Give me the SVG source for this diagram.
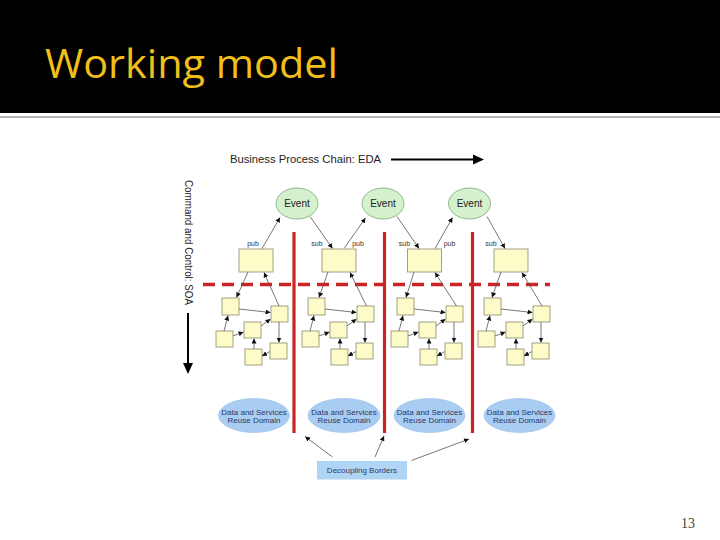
<svg xmlns="http://www.w3.org/2000/svg" width="720" height="540" viewBox="0 0 720 540">
<style>
.t{font-family:"Liberation Sans",Arial,sans-serif}
.box{fill:#fdfbc8;stroke:#8a8a6a;stroke-width:0.8}
.ev{fill:#d4f0cc;stroke:#7aaa72;stroke-width:0.8}
.dom{fill:#a8ccf2;stroke:#9bbfe6;stroke-width:0.6}
.cn{stroke:#555;stroke-width:0.8;fill:none;marker-end:url(#ah)}
.red{stroke:#c82424;stroke-width:3.2}
.lbl{font-family:"Liberation Sans",Arial,sans-serif;font-size:7px}
</style>
<defs>
<marker id="ah" viewBox="0 0 10 10" refX="10" refY="5" markerWidth="5" markerHeight="5" markerUnits="userSpaceOnUse" orient="auto"><path d="M0,0 L10,5 L0,10 z" fill="#111"/></marker>
</defs>
<rect x="0" y="0" width="720" height="540" fill="#ffffff"/>
<rect x="0" y="0" width="720" height="113" fill="#000000"/>
<line x1="0" y1="117" x2="720" y2="117" stroke="#666" stroke-width="1.2"/>
<text x="45" y="78" font-family="'Open Sans','Liberation Sans',sans-serif" font-size="40" fill="#f0bf1a" textLength="293" lengthAdjust="spacingAndGlyphs">Working model</text>
<text x="695" y="528" font-family="'Liberation Serif',serif" font-size="14" fill="#444" text-anchor="end">13</text>

<g id="eda-axis">
<text class="t" x="230" y="163" font-size="10.5" fill="#222" textLength="151" lengthAdjust="spacingAndGlyphs">Business Process Chain: EDA</text>
<line x1="391" y1="159.5" x2="475" y2="159.5" stroke="#000" stroke-width="2"/>
<polygon points="473,154.5 484,159.5 473,164.5" fill="#000"/>
</g>
<g id="soa-axis">
<text class="t" transform="translate(184.5,180) rotate(90)" font-size="10.3" fill="#222" textLength="125" lengthAdjust="spacingAndGlyphs">Command and Control: SOA</text>
<line x1="188" y1="313" x2="188" y2="365" stroke="#000" stroke-width="2"/>
<polygon points="183,363 193,363 188,374" fill="#000"/>
</g>

<g id="borders">
<line class="red" x1="294" y1="232" x2="294" y2="433"/>
<line class="red" x1="384.5" y1="232" x2="384.5" y2="433"/>
<line class="red" x1="472.5" y1="232" x2="472.5" y2="433"/>
<line x1="203" y1="284.5" x2="550" y2="284.5" stroke="#cc2424" stroke-width="3.4" stroke-dasharray="12,7"/>
</g>

<g id="event1"><ellipse class="ev" cx="297" cy="203.5" rx="21" ry="15.5"/><text class="t" x="297" y="207" font-size="10" fill="#222" text-anchor="middle">Event</text></g>
<g id="event2"><ellipse class="ev" cx="383" cy="203.5" rx="21" ry="15.5"/><text class="t" x="383" y="207" font-size="10" fill="#222" text-anchor="middle">Event</text></g>
<g id="event3"><ellipse class="ev" cx="469.5" cy="203.5" rx="21" ry="15.5"/><text class="t" x="469.5" y="207" font-size="10" fill="#222" text-anchor="middle">Event</text></g>

<g id="proc1"><rect class="box" x="239" y="249" width="34" height="23"/></g>
<g id="proc2"><rect class="box" x="322" y="249" width="34" height="23"/></g>
<g id="proc3"><rect class="box" x="407.5" y="249" width="34" height="23"/></g>
<g id="proc4"><rect class="box" x="494" y="249" width="34" height="23"/></g>

<g id="c1">
<g id="c1a"><rect class="box" x="222" y="298" width="17" height="17"/></g>
<g id="c1b"><rect class="box" x="271" y="306" width="17" height="16"/></g>
<g id="c1c"><rect class="box" x="244" y="322" width="17" height="16"/></g>
<g id="c1d"><rect class="box" x="216" y="331" width="17" height="16"/></g>
<g id="c1e"><rect class="box" x="270" y="343" width="17" height="16"/></g>
<g id="c1f"><rect class="box" x="245" y="349" width="17" height="16"/></g>
</g>
<g id="c2">
<g id="c2a"><rect class="box" x="308" y="298" width="17" height="17"/></g>
<g id="c2b"><rect class="box" x="357" y="306" width="17" height="16"/></g>
<g id="c2c"><rect class="box" x="330" y="322" width="17" height="16"/></g>
<g id="c2d"><rect class="box" x="302" y="331" width="17" height="16"/></g>
<g id="c2e"><rect class="box" x="356" y="343" width="17" height="16"/></g>
<g id="c2f"><rect class="box" x="331" y="349" width="17" height="16"/></g>
</g>
<g id="c3">
<g id="c3a"><rect class="box" x="397" y="298" width="17" height="17"/></g>
<g id="c3b"><rect class="box" x="446" y="306" width="17" height="16"/></g>
<g id="c3c"><rect class="box" x="419" y="322" width="17" height="16"/></g>
<g id="c3d"><rect class="box" x="391" y="331" width="17" height="16"/></g>
<g id="c3e"><rect class="box" x="445" y="343" width="17" height="16"/></g>
<g id="c3f"><rect class="box" x="420" y="349" width="17" height="16"/></g>
</g>
<g id="c4">
<g id="c4a"><rect class="box" x="484" y="298" width="17" height="17"/></g>
<g id="c4b"><rect class="box" x="533" y="306" width="17" height="16"/></g>
<g id="c4c"><rect class="box" x="506" y="322" width="17" height="16"/></g>
<g id="c4d"><rect class="box" x="478" y="331" width="17" height="16"/></g>
<g id="c4e"><rect class="box" x="532" y="343" width="17" height="16"/></g>
<g id="c4f"><rect class="box" x="507" y="349" width="17" height="16"/></g>
</g>

<g id="domain1"><ellipse class="dom" cx="254" cy="415.5" rx="35.5" ry="17"/><text class="t" x="254" y="414.5" font-size="8" fill="#2a3a66" text-anchor="middle">Data and Services</text><text class="t" x="254" y="423" font-size="8" fill="#2a3a66" text-anchor="middle">Reuse Domain</text></g>
<g id="domain2"><ellipse class="dom" cx="344" cy="415.5" rx="36" ry="17"/><text class="t" x="344" y="414.5" font-size="8" fill="#2a3a66" text-anchor="middle">Data and Services</text><text class="t" x="344" y="423" font-size="8" fill="#2a3a66" text-anchor="middle">Reuse Domain</text></g>
<g id="domain3"><ellipse class="dom" cx="429.5" cy="415.5" rx="35.5" ry="17"/><text class="t" x="429.5" y="414.5" font-size="8" fill="#2a3a66" text-anchor="middle">Data and Services</text><text class="t" x="429.5" y="423" font-size="8" fill="#2a3a66" text-anchor="middle">Reuse Domain</text></g>
<g id="domain4"><ellipse class="dom" cx="519.5" cy="415.5" rx="35.5" ry="17"/><text class="t" x="519.5" y="414.5" font-size="8" fill="#2a3a66" text-anchor="middle">Data and Services</text><text class="t" x="519.5" y="423" font-size="8" fill="#2a3a66" text-anchor="middle">Reuse Domain</text></g>
<g id="decoupling"><rect x="317" y="461" width="90" height="18.5" fill="#b0d4f4"/><text class="t" x="362" y="473" font-size="8" fill="#2a3a66" text-anchor="middle">Decoupling Borders</text></g>

<g id="labels" fill="#333333">
<text class="lbl" x="253" y="245.5" text-anchor="middle" fill="#333333">pub</text>
<text class="lbl" x="317" y="245.5" text-anchor="middle" fill="#333333">sub</text>
<text class="lbl" x="358" y="245.5" text-anchor="middle" fill="#333333">pub</text>
<text class="lbl" x="404.5" y="245.5" text-anchor="middle" fill="#333333">sub</text>
<text class="lbl" x="449.5" y="245.5" text-anchor="middle" fill="#333333">pub</text>
<text class="lbl" x="491" y="245.5" text-anchor="middle" fill="#333333">sub</text>
</g>

<g id="connectors">
<line class="cn" x1="262" y1="248.5" x2="280" y2="217.5"/>
<line class="cn" x1="310" y1="216.5" x2="332.5" y2="248.5"/>
<line class="cn" x1="344" y1="248.5" x2="365.5" y2="218"/>
<line class="cn" x1="397" y1="216.5" x2="419" y2="248.5"/>
<line class="cn" x1="435" y1="248.5" x2="452.5" y2="217.5"/>
<line class="cn" x1="487" y1="216.5" x2="505" y2="248.5"/>

<line class="cn" x1="248" y1="272" x2="236.5" y2="297.5"/>
<line class="cn" x1="279" y1="306" x2="264" y2="272.5"/>
<line class="cn" x1="328" y1="272" x2="319" y2="297.5"/>
<line class="cn" x1="366.5" y1="306" x2="350" y2="272.5"/>
<line class="cn" x1="414" y1="272" x2="406" y2="297.5"/>
<line class="cn" x1="456.5" y1="306" x2="435" y2="272.5"/>
<line class="cn" x1="501" y1="272" x2="492" y2="297.5"/>
<line class="cn" x1="542" y1="306" x2="522" y2="272.5"/>

<g id="inner1">
<line class="cn" x1="239" y1="309" x2="270.5" y2="312.5"/>
<line class="cn" x1="224" y1="331" x2="228" y2="315.5"/>
<line class="cn" x1="233" y1="336" x2="243.5" y2="332"/>
<line class="cn" x1="261" y1="326" x2="270.5" y2="319"/>
<line class="cn" x1="279" y1="322" x2="279" y2="342.5"/>
<line class="cn" x1="270" y1="351.5" x2="262" y2="356"/>
<line class="cn" x1="254" y1="349" x2="254" y2="338.5"/>
</g>
<use href="#inner1" transform="translate(86,0)"/>
<use href="#inner1" transform="translate(175,0)"/>
<use href="#inner1" transform="translate(262,0)"/>

<line class="cn" x1="332.5" y1="457" x2="305" y2="436.5"/>
<line class="cn" x1="375" y1="457" x2="384" y2="436"/>
<line class="cn" x1="411.5" y1="460.5" x2="469" y2="439"/>
</g>
</svg>
